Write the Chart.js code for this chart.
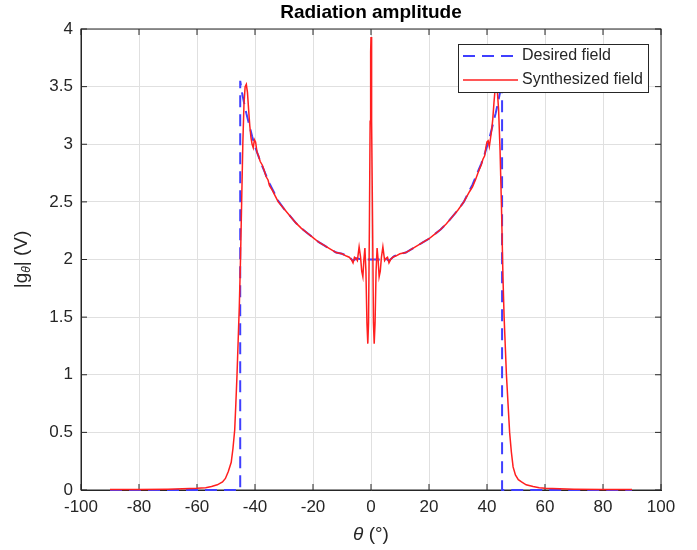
<!DOCTYPE html>
<html>
<head>
<meta charset="utf-8">
<title>Radiation amplitude</title>
<script src="https://cdn.jsdelivr.net/npm/chart.js@4.4.1/dist/chart.umd.min.js"></script>
<style>
  html, body { margin: 0; padding: 0; background: #ffffff; }
  canvas { display: block; }
</style>
</head>
<body>
<canvas id="myChart" width="697" height="550"></canvas>
<script>
// data
const thetaSynth = [
  -90, -80, -70, -65, -60, -57, -55, -53, -51.2, -50.2, -49.2, -48.2, -47.6, -47.0, -46.6, -46.2,
  -45.8, -45.4, -45.0, -44.6, -44.2, -43.8, -43.4, -43.0, -42.6, -42.2, -41.8, -41.4, -41.0, -40.6,
  -40.2, -39.8, -39.3, -38.8, -38.2, -37.5, -36.8, -36.2, -35.5, -35.0, -34, -33, -32, -30, -28,
  -26, -24, -22, -20, -18, -16, -14, -12, -10, -8.5, -7.5, -6.8, -6.2, -5.7, -5.2, -4.7, -4.1,
  -3.6, -3.2, -2.8, -2.45, -2.1, -1.75, -1.4, -1.1, -0.85, -0.55, -0.3, -0.12, 0,
  0.12, 0.3, 0.55, 0.85, 1.1, 1.4, 1.75, 2.1, 2.45, 2.8, 3.2, 3.6, 4.1, 4.7, 5.2, 5.7, 6.2,
  6.8, 7.5, 8.5, 10, 12, 14, 16, 18, 20, 22, 24, 26, 28, 30, 32, 34, 35, 36, 37, 38, 38.6,
  39.2, 39.6, 40.0, 40.4, 40.8, 41.2, 41.6, 42.0, 42.4, 42.8, 43.2, 43.6, 44.0, 44.5, 45.0,
  45.5, 45.9, 46.7, 47.8, 48.4, 49.0, 49.8, 50.8, 51.9, 53.5, 55.9, 58, 60, 65, 70, 80, 90
];
const ampSynth = [
  0.005, 0.005, 0.007, 0.01, 0.015, 0.02, 0.03, 0.045, 0.07, 0.1, 0.16, 0.24, 0.36, 0.52, 0.75, 1.0,
  1.3, 1.6, 2.0, 2.5, 3.0, 3.35, 3.5, 3.52, 3.45, 3.3, 3.16, 3.06, 3.0, 2.97,
  3.04, 3.02, 2.93, 2.9, 2.85, 2.82, 2.77, 2.72, 2.69, 2.64, 2.6, 2.55, 2.5, 2.44, 2.38,
  2.32, 2.27, 2.23, 2.19, 2.15, 2.12, 2.09, 2.06, 2.05, 2.03, 2.02, 2.0, 1.97, 2.02, 2.01, 1.99, 2.11,
  2.02, 1.9, 1.85, 2.0, 2.1, 1.9, 1.45, 1.27, 1.45, 2.3, 3.2, 3.8, 3.93,
  3.8, 3.2, 2.3, 1.45, 1.27, 1.45, 1.9, 2.1, 2.0, 1.85, 1.9, 2.02, 2.11, 1.99, 2.01, 2.02, 1.97,
  2.0, 2.02, 2.03, 2.05, 2.06, 2.09, 2.12, 2.15, 2.18, 2.22, 2.26, 2.31, 2.37, 2.43, 2.5, 2.59, 2.63, 2.69, 2.76, 2.82, 2.87,
  2.9, 2.97, 3.02, 3.03, 2.98, 3.05, 3.12, 3.22, 3.36, 3.48, 3.52, 3.45, 3.3, 2.95, 2.45,
  1.85, 1.5, 1.0, 0.5, 0.33, 0.2, 0.13, 0.09, 0.07, 0.045, 0.03, 0.02, 0.015, 0.01, 0.007, 0.005, 0.005
];

const thetaDesired = [
  -90, -45.1, -45.1, -44.5, -43.7, -43, -42, -41, -40, -39, -38, -37, -36, -35, -34, -33, -32,
  -30, -28, -26, -24, -22, -20, -18, -16, -14, -12, -10, -8, -6.2, -5, -3, 0,
  3, 5, 6.2, 8, 10, 12, 14, 16, 18, 20, 22, 24, 26, 28, 30, 32, 34, 35, 36, 37, 38, 39, 40,
  41, 42, 43, 43.7, 44.5, 45.2, 45.2, 90
];
const ampDesired = [
  0, 0, 3.55, 3.45, 3.35, 3.27, 3.17, 3.07, 2.98, 2.91, 2.84, 2.78, 2.72, 2.66, 2.61, 2.56, 2.51,
  2.44, 2.38, 2.32, 2.27, 2.23, 2.19, 2.15, 2.12, 2.09, 2.06, 2.05, 2.03, 1.99, 2.01, 2.0, 2.0,
  2.0, 2.01, 1.99, 2.03, 2.05, 2.06, 2.09, 2.12, 2.15, 2.18, 2.22, 2.26, 2.31, 2.37, 2.43, 2.5, 2.6, 2.65, 2.71, 2.77, 2.83, 2.9, 2.98,
  3.07, 3.17, 3.27, 3.35, 3.45, 3.55, 0, 0
];

const xTicks = [-100, -80, -60, -40, -20, 0, 20, 40, 60, 80, 100];
const yTicks = [0, 0.5, 1, 1.5, 2, 2.5, 3, 3.5, 4];

const FONT = "'Liberation Sans', Arial, Helvetica, sans-serif";
const AXIS = "#262626";

const pts = (xs, ys) => xs.map((v, i) => ({ x: v, y: ys[i] }));

// box, inward ticks, titles and legend (MATLAB look)
const matlabFrame = {
  id: "matlabFrame",
  beforeDatasetsDraw(chart) {
    const { ctx, chartArea: a, scales } = chart;
    const x = scales.x, y = scales.y;
    ctx.save();
    ctx.strokeStyle = AXIS;
    ctx.lineWidth = 1;
    ctx.strokeRect(a.left, a.top, a.right - a.left, a.bottom - a.top);
    ctx.beginPath();
    xTicks.forEach((v) => {
      const px = x.getPixelForValue(v);
      ctx.moveTo(px, a.bottom); ctx.lineTo(px, a.bottom - 6);
      ctx.moveTo(px, a.top); ctx.lineTo(px, a.top + 6);
    });
    yTicks.forEach((v) => {
      const py = y.getPixelForValue(v);
      ctx.moveTo(a.left, py); ctx.lineTo(a.left + 6, py);
      ctx.moveTo(a.right, py); ctx.lineTo(a.right - 6, py);
    });
    ctx.stroke();
    ctx.restore();
  },
  afterDraw(chart) {
    const { ctx, chartArea: a } = chart;
    ctx.save();
    // title
    ctx.fillStyle = "#000000";
    ctx.font = "bold 19px " + FONT;
    ctx.textAlign = "center";
    ctx.textBaseline = "middle";
    ctx.fillText("Radiation amplitude", (a.left + a.right) / 2, 13);

    // x axis title: theta (deg)
    ctx.fillStyle = AXIS;
    ctx.textAlign = "left";
    const xa = "italic 19px " + FONT, xb = "19px " + FONT;
    ctx.font = xa; const w1 = ctx.measureText("θ").width;
    ctx.font = xb; const w2 = ctx.measureText(" (°)").width;
    let sx = (a.left + a.right) / 2 - (w1 + w2) / 2;
    ctx.font = xa; ctx.fillText("θ", sx, 535);
    ctx.font = xb; ctx.fillText(" (°)", sx + w1, 535);

    // y axis title: |g_theta| (V)
    ctx.save();
    ctx.translate(22, (a.top + a.bottom) / 2);
    ctx.rotate(-Math.PI / 2);
    const fa = "19px " + FONT, fs = "italic 12px " + FONT;
    ctx.font = fa; const p1 = ctx.measureText("|g").width;
    ctx.font = fs; const p2 = ctx.measureText("θ").width;
    ctx.font = fa; const p3 = ctx.measureText("| (V)").width;
    let ty = -(p1 + p2 + p3) / 2;
    ctx.font = fa; ctx.fillText("|g", ty, 0);
    ctx.font = fs; ctx.fillText("θ", ty + p1, 5);
    ctx.font = fa; ctx.fillText("| (V)", ty + p1 + p2, 0);
    ctx.restore();

    // legend
    const lx = 458, ly = 44, lw = 190, lh = 48;
    ctx.fillStyle = "#ffffff";
    ctx.fillRect(lx, ly, lw, lh);
    ctx.strokeStyle = AXIS;
    ctx.lineWidth = 1;
    ctx.strokeRect(lx + 0.5, ly + 0.5, lw, lh);
    ctx.font = "16px " + FONT;
    ctx.textBaseline = "middle";
    ctx.fillStyle = AXIS;
    chart.data.datasets.slice().reverse().forEach((ds, i) => {
      const cy = 56 + i * 24;
      ctx.beginPath();
      ctx.strokeStyle = ds.borderColor;
      ctx.lineWidth = ds.borderWidth;
      ctx.setLineDash(ds.borderDash || []);
      ctx.moveTo(463, cy); ctx.lineTo(518, cy);
      ctx.stroke();
      ctx.setLineDash([]);
      ctx.fillText(ds.label, 522, cy);
    });
    ctx.restore();
  },
};

const data = {
  datasets: [
    {
      label: "Synthesized field",
      data: pts(thetaSynth, ampSynth),
      borderColor: "#ff1f1f",
      borderWidth: 1.5,
      pointRadius: 0,
      tension: 0,
      clip: 2,
      order: 0,
    },
    {
      label: "Desired field",
      data: pts(thetaDesired, ampDesired),
      borderColor: "#3f3fff",
      borderWidth: 2,
      borderDash: [12, 7],
      pointRadius: 0,
      tension: 0,
      clip: 2,
      order: 1,
    },
  ],
};

const config = {
  type: "line",
  data,
  options: {
    responsive: false,
    animation: false,
    layout: { padding: { left: 0, right: 36, top: 29, bottom: 0 } },
    scales: {
      x: {
        type: "linear",
        min: -100,
        max: 100,
        afterBuildTicks: (s) => { s.ticks = xTicks.map((v) => ({ value: v })); },
        afterFit: (s) => { s.height = 60; },
        grid: { color: "#e0e0e0", drawTicks: false },
        border: { display: true, color: AXIS },
        ticks: { color: AXIS, padding: 7, maxRotation: 0, font: { size: 17, family: FONT },
          callback: (v) => String(v) },
      },
      y: {
        min: 0,
        max: 4,
        afterBuildTicks: (s) => { s.ticks = yTicks.map((v) => ({ value: v })); },
        afterFit: (s) => { s.width = 81; },
        grid: { color: "#e0e0e0", drawTicks: false },
        border: { display: true, color: AXIS },
        ticks: { color: AXIS, padding: 8, font: { size: 17, family: FONT },
          callback: (v) => String(v) },
      },
    },
    plugins: {
      legend: { display: false },
      title: { display: false },
      tooltip: { enabled: false },
    },
  },
  plugins: [matlabFrame],
};

const myChart = new Chart(document.getElementById("myChart"), config);
</script>
</body>
</html>
